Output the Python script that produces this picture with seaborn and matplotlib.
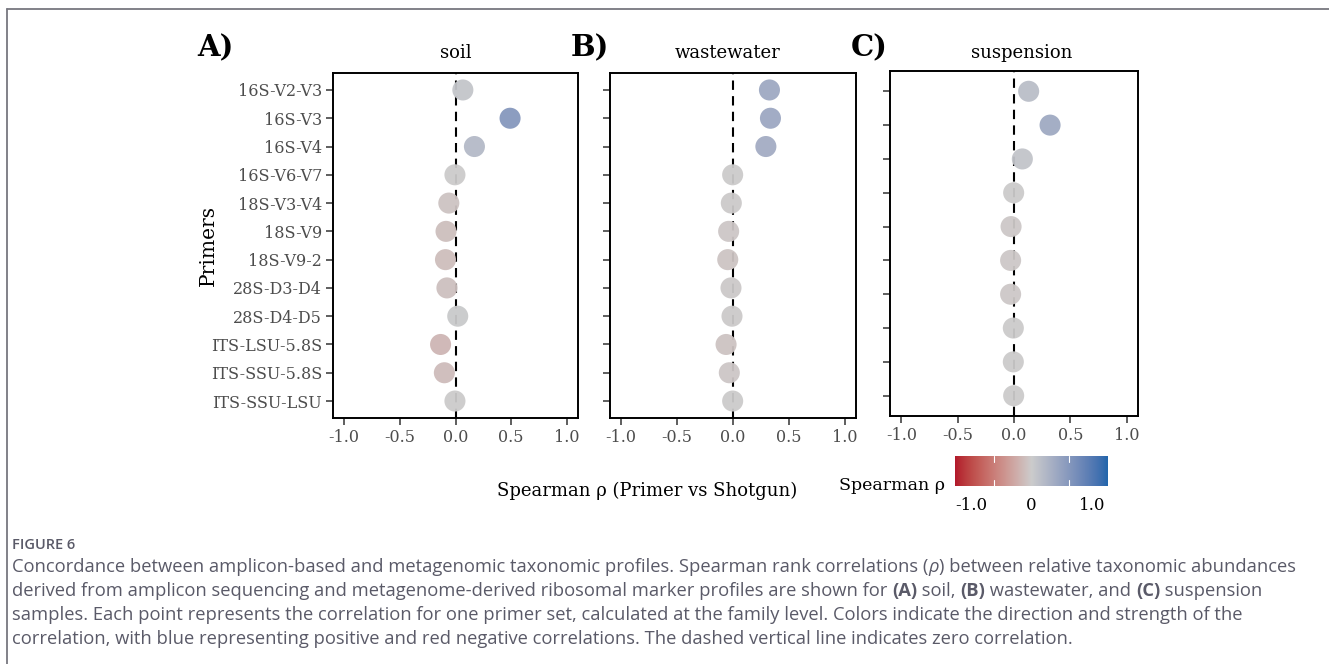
import numpy as np
import pandas as pd
import matplotlib
matplotlib.use("Agg")
import matplotlib.pyplot as plt
import seaborn as sns
from matplotlib.colors import LinearSegmentedColormap, Normalize
from matplotlib.lines import Line2D

# ---------------- data ----------------
primers_ab = ["16S-V2-V3", "16S-V3", "16S-V4", "16S-V6-V7", "18S-V3-V4", "18S-V9",
              "18S-V9-2", "28S-D3-D4", "28S-D4-D5", "ITS-LSU-5.8S", "ITS-SSU-5.8S", "ITS-SSU-LSU"]
soil_rho = [0.066, 0.49, 0.17, -0.005, -0.06, -0.085, -0.09, -0.077, 0.02, -0.134, -0.10, -0.005]
wastewater_rho = [0.326, 0.335, 0.294, -0.003, -0.015, -0.039, -0.047, -0.018, -0.009, -0.062, -0.033, -0.003]
primers_c = ["16S-V2-V3", "16S-V3", "16S-V4", "16S-V6-V7", "18S-V3-V4", "18S-V9",
             "28S-D3-D4", "ITS-LSU-5.8S", "ITS-SSU-5.8S", "ITS-SSU-LSU"]
suspension_rho = [0.13, 0.32, 0.074, -0.003, -0.026, -0.03, -0.03, -0.006, -0.006, -0.003]
panel_titles = ["soil", "wastewater", "suspension"]
panel_tags = ["A)", "B)", "C)"]
x_ticks = [-1.0, -0.5, 0.0, 0.5, 1.0]
cbar_ticks = [-1.0, 0.0, 1.0]
cbar_labels = ["-1.0", "0", "1.0"]

# ---------------- colour scale (Lab interpolation like gradient2) ----------------
def srgb_to_lab(rgb):
    rgb = np.asarray(rgb, float)
    lin = np.where(rgb <= 0.04045, rgb / 12.92, ((rgb + 0.055) / 1.055) ** 2.4)
    M = np.array([[0.4124, 0.3576, 0.1805], [0.2126, 0.7152, 0.0722], [0.0193, 0.1192, 0.9505]])
    xyz = lin @ M.T / np.array([0.95047, 1.0, 1.08883])
    f = np.where(xyz > 0.008856, np.cbrt(xyz), 7.787 * xyz + 16 / 116)
    L = 116 * f[..., 1] - 16
    a = 500 * (f[..., 0] - f[..., 1])
    b = 200 * (f[..., 1] - f[..., 2])
    return np.stack([L, a, b], -1)

def lab_to_srgb(lab):
    L, a, b = lab[..., 0], lab[..., 1], lab[..., 2]
    fy = (L + 16) / 116
    fx = fy + a / 500
    fz = fy - b / 200
    f = np.stack([fx, fy, fz], -1)
    xyz = np.where(f ** 3 > 0.008856, f ** 3, (f - 16 / 116) / 7.787) * np.array([0.95047, 1.0, 1.08883])
    Minv = np.linalg.inv(np.array([[0.4124, 0.3576, 0.1805], [0.2126, 0.7152, 0.0722], [0.0193, 0.1192, 0.9505]]))
    lin = xyz @ Minv.T
    lin = np.clip(lin, 0, 1)
    return np.clip(np.where(lin <= 0.0031308, 12.92 * lin, 1.055 * lin ** (1 / 2.4) - 0.055), 0, 1)

low = np.array([178, 24, 43]) / 255
mid = np.array([204, 204, 204]) / 255
high = np.array([33, 102, 172]) / 255
t = np.linspace(0, 1, 128)[:, None]
lab_lm = srgb_to_lab(low) * (1 - t) + srgb_to_lab(mid) * t
lab_mh = srgb_to_lab(mid) * (1 - t) + srgb_to_lab(high) * t
cols = np.vstack([lab_to_srgb(lab_lm), lab_to_srgb(lab_mh)[1:]])
cmap = LinearSegmentedColormap.from_list("rgb2", cols)
norm = Normalize(vmin=-1.0, vmax=1.0)

# ---------------- figure ----------------
sns.set_theme(style="white")
plt.rcParams["font.family"] = ["DejaVu Serif"]
fig = plt.figure(figsize=(13.29, 6.64), dpi=100)
W, H = 1329, 664

def ax_rect(l, t_, r, b):
    return [l / W, 1 - b / H, (r - l) / W, (b - t_) / H]

rects = [ax_rect(333, 73, 578, 418), ax_rect(610, 73, 856, 418), ax_rect(890, 71, 1138, 416)]
panels = [(primers_ab, soil_rho), (primers_ab, wastewater_rho), (primers_c, suspension_rho)]
title_x = [456, 728, 1022]
tag_x = [215, 590, 869]

for i, (rect, (cats, vals)) in enumerate(zip(rects, panels)):
    ax = fig.add_axes(rect)
    df = pd.DataFrame({"primer": cats, "rho": vals})
    ax.axvline(0, color="black", ls=(0, (4.5, 3.0)), lw=1.5, zorder=1)
    sns.scatterplot(data=df, x="rho", y="primer", hue="rho", palette=cmap, hue_norm=norm,
                    s=230, alpha=0.95, linewidth=0, legend=False, ax=ax, zorder=3)
    n = len(cats)
    ax.set_ylim(n - 1 + 0.6, -0.6)
    ax.set_xlim(-1.1, 1.1)
    ax.set_xticks(x_ticks)
    ax.set_xticklabels([f"{v:.1f}" for v in x_ticks])
    ax.set_xlabel("")
    ax.set_ylabel("")
    ax.tick_params(axis="both", which="both", length=5, width=1.1, color="#333333",
                   labelcolor="#4d4d4d", labelsize=11.5, pad=3, left=True, bottom=True)
    for sp in ax.spines.values():
        sp.set_color("black")
        sp.set_linewidth(1.4)
    if i == 0:
        ax.set_ylabel("Primers", fontsize=14.5, color="black", labelpad=-5)
    else:
        ax.set_yticklabels([])
    fig.text(title_x[i] / W, 1 - 53 / H, panel_titles[i], ha="center", va="center",
             fontsize=13, color="black")
    fig.text(tag_x[i] / W, 1 - 48 / H, panel_tags[i], ha="center", va="center",
             fontsize=21, fontweight="bold", color="black")

fig.text(647 / W, 1 - 491 / H, "Spearman ρ (Primer vs Shotgun)", ha="center", va="center",
         fontsize=13, color="black")

# colour bar (gradient shown over its own display range)
cbar_lo, cbar_hi = -1.27, 1.27
cax = fig.add_axes(ax_rect(955, 456, 1108, 486))
grad = np.linspace(cbar_lo, cbar_hi, 256)[None, :]
cax.imshow(grad, aspect="auto", cmap=cmap, norm=Normalize(cbar_lo, cbar_hi),
           extent=[cbar_lo, cbar_hi, 0, 1])
cax.set_xlim(cbar_lo, cbar_hi)
cax.set_ylim(0, 1)
for sp in cax.spines.values():
    sp.set_visible(False)
cax.set_yticks([])
cax.set_xticks(cbar_ticks)
cax.set_xticklabels(cbar_labels)
cax.tick_params(axis="x", length=0, pad=8, labelsize=12, labelcolor="black")
for tv in [-0.63, 0.63]:
    cax.plot([tv, tv], [0, 0.2], color="white", lw=0.8)
    cax.plot([tv, tv], [0.8, 1], color="white", lw=0.8)
fig.text(945 / W, 1 - 485 / H, "Spearman ρ", ha="right", va="center", fontsize=12.5, color="black")

# frame lines of the page
fig.add_artist(Line2D([7 / W, 1], [1 - 9 / H, 1 - 9 / H], transform=fig.transFigure,
                      color="#77777f", lw=1.3))
fig.add_artist(Line2D([7 / W, 7 / W], [0, 1 - 9 / H], transform=fig.transFigure,
                      color="#77777f", lw=1.3))

# caption
cap_color = "#5a5a68"
cap_font = ["Open Sans", "DejaVu Sans"]
fig.text(12 / W, 1 - 545 / H, "FIGURE 6", ha="left", va="center", fontsize=10.5,
         fontweight="semibold", color=cap_color, family=cap_font)

caption_lines = [
    [("Concordance between amplicon-based and metagenomic taxonomic profiles. Spearman rank correlations (", "normal", "normal"),
     ("ρ", "normal", "italic"),
     (") between relative taxonomic abundances", "normal", "normal")],
    [("derived from amplicon sequencing and metagenome-derived ribosomal marker profiles are shown for ", "normal", "normal"),
     ("(A)", "bold", "normal"), (" soil, ", "normal", "normal"),
     ("(B)", "bold", "normal"), (" wastewater, and ", "normal", "normal"),
     ("(C)", "bold", "normal"), (" suspension", "normal", "normal")],
    [("samples. Each point represents the correlation for one primer set, calculated at the family level. Colors indicate the direction and strength of the", "normal", "normal")],
    [("correlation, with blue representing positive and red negative correlations. The dashed vertical line indicates zero correlation.", "normal", "normal")],
]
line_y = [567, 591, 615, 639]
renderer = fig.canvas.get_renderer()
for segs, yy in zip(caption_lines, line_y):
    x = 12.0
    for txt, wt, st in segs:
        tt = fig.text(x / W, 1 - yy / H, txt, ha="left", va="center", fontsize=13.2,
                      fontweight=wt, fontstyle=st, color=cap_color, family=cap_font)
        bb = tt.get_window_extent(renderer)
        x = bb.x1

fig.savefig("out.png", dpi=100)
